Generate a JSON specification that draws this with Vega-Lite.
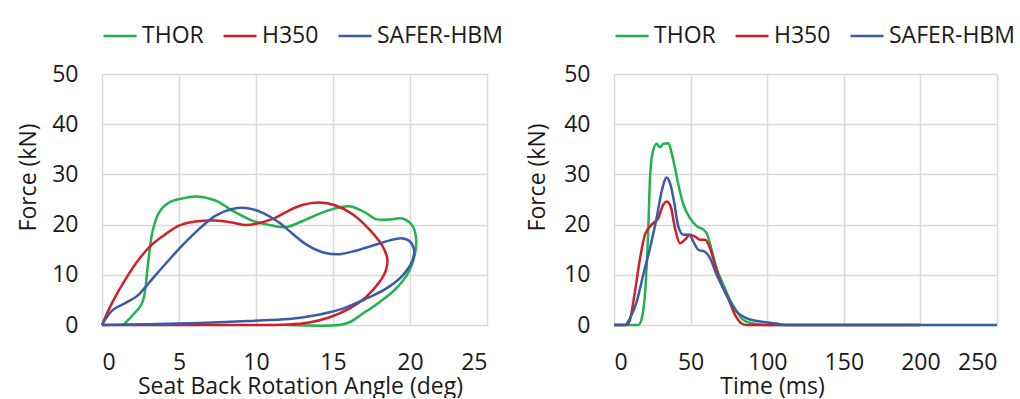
{
  "$schema": "https://vega.github.io/schema/vega-lite/v6.json",
  "padding": {"left": 16, "top": 18, "right": 0, "bottom": 0},
  "background": "white",
  "datasets": {
    "angle": [
      {"s": "THOR", "i": 0, "x": 1.38, "f": 0},
      {"s": "THOR", "i": 1, "x": 1.97, "f": 1.9},
      {"s": "THOR", "i": 2, "x": 2.62, "f": 4.5},
      {"s": "THOR", "i": 3, "x": 3.0, "f": 12.5},
      {"s": "THOR", "i": 4, "x": 3.27, "f": 18.5},
      {"s": "THOR", "i": 5, "x": 3.7, "f": 22.4},
      {"s": "THOR", "i": 6, "x": 4.35, "f": 24.4},
      {"s": "THOR", "i": 7, "x": 5.2, "f": 25.2},
      {"s": "THOR", "i": 8, "x": 6.08, "f": 25.6},
      {"s": "THOR", "i": 9, "x": 7.37, "f": 24.8},
      {"s": "THOR", "i": 10, "x": 8.46, "f": 22.8},
      {"s": "THOR", "i": 11, "x": 9.76, "f": 20.8},
      {"s": "THOR", "i": 12, "x": 11.06, "f": 19.8},
      {"s": "THOR", "i": 13, "x": 11.93, "f": 19.5},
      {"s": "THOR", "i": 14, "x": 13.24, "f": 21.0},
      {"s": "THOR", "i": 15, "x": 14.3, "f": 22.4},
      {"s": "THOR", "i": 16, "x": 15.4, "f": 23.4},
      {"s": "THOR", "i": 17, "x": 16.15, "f": 23.6},
      {"s": "THOR", "i": 18, "x": 17.1, "f": 22.4},
      {"s": "THOR", "i": 19, "x": 17.77, "f": 21.1},
      {"s": "THOR", "i": 20, "x": 18.6, "f": 21.0},
      {"s": "THOR", "i": 21, "x": 19.5, "f": 21.2},
      {"s": "THOR", "i": 22, "x": 20.15, "f": 19.8},
      {"s": "THOR", "i": 23, "x": 20.4, "f": 17.1},
      {"s": "THOR", "i": 24, "x": 20.3, "f": 13.8},
      {"s": "THOR", "i": 25, "x": 19.9, "f": 10.5},
      {"s": "THOR", "i": 26, "x": 19.07, "f": 7.2},
      {"s": "THOR", "i": 27, "x": 18.0, "f": 4.5},
      {"s": "THOR", "i": 28, "x": 16.9, "f": 2.2},
      {"s": "THOR", "i": 29, "x": 16.04, "f": 0.5},
      {"s": "THOR", "i": 30, "x": 15.4, "f": 0},
      {"s": "THOR", "i": 31, "x": 12.0, "f": 0},
      {"s": "H350", "i": 0, "x": 0, "f": 0},
      {"s": "H350", "i": 1, "x": 0.67, "f": 4.5},
      {"s": "H350", "i": 2, "x": 1.54, "f": 9.2},
      {"s": "H350", "i": 3, "x": 2.4, "f": 13.1},
      {"s": "H350", "i": 4, "x": 3.27, "f": 16.1},
      {"s": "H350", "i": 5, "x": 4.13, "f": 18.1},
      {"s": "H350", "i": 6, "x": 5.0, "f": 19.8},
      {"s": "H350", "i": 7, "x": 6.08, "f": 20.6},
      {"s": "H350", "i": 8, "x": 7.38, "f": 20.8},
      {"s": "H350", "i": 9, "x": 8.46, "f": 20.4},
      {"s": "H350", "i": 10, "x": 9.33, "f": 19.9},
      {"s": "H350", "i": 11, "x": 10.2, "f": 20.3},
      {"s": "H350", "i": 12, "x": 11.28, "f": 21.4},
      {"s": "H350", "i": 13, "x": 12.14, "f": 22.8},
      {"s": "H350", "i": 14, "x": 13.0, "f": 23.9},
      {"s": "H350", "i": 15, "x": 14.1, "f": 24.4},
      {"s": "H350", "i": 16, "x": 15.17, "f": 23.8},
      {"s": "H350", "i": 17, "x": 16.25, "f": 22.1},
      {"s": "H350", "i": 18, "x": 17.34, "f": 19.1},
      {"s": "H350", "i": 19, "x": 18.2, "f": 15.8},
      {"s": "H350", "i": 20, "x": 18.53, "f": 13.1},
      {"s": "H350", "i": 21, "x": 18.42, "f": 10.8},
      {"s": "H350", "i": 22, "x": 18.0, "f": 8.5},
      {"s": "H350", "i": 23, "x": 17.12, "f": 5.5},
      {"s": "H350", "i": 24, "x": 16.04, "f": 3.2},
      {"s": "H350", "i": 25, "x": 14.74, "f": 1.5},
      {"s": "H350", "i": 26, "x": 13.44, "f": 0.5},
      {"s": "H350", "i": 27, "x": 12.14, "f": 0.1},
      {"s": "H350", "i": 28, "x": 8.0, "f": 0},
      {"s": "H350", "i": 29, "x": 0, "f": 0},
      {"s": "SAFER-HBM", "i": 0, "x": 0, "f": 0},
      {"s": "SAFER-HBM", "i": 1, "x": 0.67, "f": 2.9},
      {"s": "SAFER-HBM", "i": 2, "x": 1.54, "f": 4.4},
      {"s": "SAFER-HBM", "i": 3, "x": 2.29, "f": 5.8},
      {"s": "SAFER-HBM", "i": 4, "x": 3.27, "f": 9.2},
      {"s": "SAFER-HBM", "i": 5, "x": 4.13, "f": 12.2},
      {"s": "SAFER-HBM", "i": 6, "x": 5.2, "f": 15.8},
      {"s": "SAFER-HBM", "i": 7, "x": 6.3, "f": 19.1},
      {"s": "SAFER-HBM", "i": 8, "x": 7.38, "f": 21.8},
      {"s": "SAFER-HBM", "i": 9, "x": 8.46, "f": 23.1},
      {"s": "SAFER-HBM", "i": 10, "x": 9.33, "f": 23.3},
      {"s": "SAFER-HBM", "i": 11, "x": 10.4, "f": 22.4},
      {"s": "SAFER-HBM", "i": 12, "x": 11.5, "f": 20.4},
      {"s": "SAFER-HBM", "i": 13, "x": 12.14, "f": 18.8},
      {"s": "SAFER-HBM", "i": 14, "x": 13.23, "f": 16.1},
      {"s": "SAFER-HBM", "i": 15, "x": 14.3, "f": 14.5},
      {"s": "SAFER-HBM", "i": 16, "x": 15.4, "f": 14.1},
      {"s": "SAFER-HBM", "i": 17, "x": 16.47, "f": 14.8},
      {"s": "SAFER-HBM", "i": 18, "x": 17.55, "f": 15.8},
      {"s": "SAFER-HBM", "i": 19, "x": 18.64, "f": 16.8},
      {"s": "SAFER-HBM", "i": 20, "x": 19.4, "f": 17.3},
      {"s": "SAFER-HBM", "i": 21, "x": 19.94, "f": 16.8},
      {"s": "SAFER-HBM", "i": 22, "x": 20.26, "f": 15.1},
      {"s": "SAFER-HBM", "i": 23, "x": 20.15, "f": 12.8},
      {"s": "SAFER-HBM", "i": 24, "x": 19.5, "f": 9.8},
      {"s": "SAFER-HBM", "i": 25, "x": 18.42, "f": 7.2},
      {"s": "SAFER-HBM", "i": 26, "x": 17.12, "f": 5.2},
      {"s": "SAFER-HBM", "i": 27, "x": 15.6, "f": 3.2},
      {"s": "SAFER-HBM", "i": 28, "x": 14.3, "f": 2.2},
      {"s": "SAFER-HBM", "i": 29, "x": 13.0, "f": 1.5},
      {"s": "SAFER-HBM", "i": 30, "x": 12.14, "f": 1.2},
      {"s": "SAFER-HBM", "i": 31, "x": 9.5, "f": 0.8},
      {"s": "SAFER-HBM", "i": 32, "x": 6.3, "f": 0.4},
      {"s": "SAFER-HBM", "i": 33, "x": 3.0, "f": 0.15},
      {"s": "SAFER-HBM", "i": 34, "x": 0, "f": 0}
    ],
    "time": [
      {"s": "THOR", "t": 0, "f": 0},
      {"s": "THOR", "t": 15.9, "f": 0},
      {"s": "THOR", "t": 18.1, "f": 1.3},
      {"s": "THOR", "t": 20.2, "f": 6},
      {"s": "THOR", "t": 22.4, "f": 19.3},
      {"s": "THOR", "t": 23.5, "f": 29.3},
      {"s": "THOR", "t": 25.2, "f": 34.3},
      {"s": "THOR", "t": 27.8, "f": 36.1},
      {"s": "THOR", "t": 30.0, "f": 35.4},
      {"s": "THOR", "t": 32.2, "f": 36.1},
      {"s": "THOR", "t": 35.5, "f": 36.2},
      {"s": "THOR", "t": 37.6, "f": 34.3},
      {"s": "THOR", "t": 39.8, "f": 31.3},
      {"s": "THOR", "t": 42.0, "f": 28},
      {"s": "THOR", "t": 45.3, "f": 24},
      {"s": "THOR", "t": 49.6, "f": 21.3},
      {"s": "THOR", "t": 54.0, "f": 19.7},
      {"s": "THOR", "t": 58.3, "f": 19},
      {"s": "THOR", "t": 60.9, "f": 18},
      {"s": "THOR", "t": 63.7, "f": 15},
      {"s": "THOR", "t": 67.0, "f": 11.3},
      {"s": "THOR", "t": 71.4, "f": 8},
      {"s": "THOR", "t": 75.7, "f": 5},
      {"s": "THOR", "t": 80.1, "f": 2.7},
      {"s": "THOR", "t": 84.4, "f": 1},
      {"s": "THOR", "t": 91, "f": 0.3},
      {"s": "THOR", "t": 99.7, "f": 0},
      {"s": "THOR", "t": 200, "f": 0},
      {"s": "H350", "t": 0, "f": 0},
      {"s": "H350", "t": 8.3, "f": 0},
      {"s": "H350", "t": 10.4, "f": 1},
      {"s": "H350", "t": 13.7, "f": 6.7},
      {"s": "H350", "t": 17, "f": 13.3},
      {"s": "H350", "t": 20.2, "f": 18},
      {"s": "H350", "t": 24.6, "f": 20},
      {"s": "H350", "t": 28.9, "f": 21.3},
      {"s": "H350", "t": 32.2, "f": 24},
      {"s": "H350", "t": 34.4, "f": 24.6},
      {"s": "H350", "t": 37, "f": 23.6},
      {"s": "H350", "t": 39.8, "f": 19.3},
      {"s": "H350", "t": 43.1, "f": 16.3},
      {"s": "H350", "t": 46.3, "f": 17},
      {"s": "H350", "t": 49.6, "f": 18},
      {"s": "H350", "t": 52.9, "f": 17.6},
      {"s": "H350", "t": 56.1, "f": 17},
      {"s": "H350", "t": 59.4, "f": 17},
      {"s": "H350", "t": 62.7, "f": 15.3},
      {"s": "H350", "t": 65.9, "f": 12},
      {"s": "H350", "t": 70.3, "f": 8},
      {"s": "H350", "t": 74.6, "f": 5.3},
      {"s": "H350", "t": 79, "f": 2},
      {"s": "H350", "t": 83.3, "f": 0.3},
      {"s": "H350", "t": 86.6, "f": 0},
      {"s": "H350", "t": 200, "f": 0},
      {"s": "SAFER-HBM", "t": 0, "f": 0},
      {"s": "SAFER-HBM", "t": 7.2, "f": 0},
      {"s": "SAFER-HBM", "t": 10.4, "f": 1.3},
      {"s": "SAFER-HBM", "t": 14.8, "f": 4.6},
      {"s": "SAFER-HBM", "t": 19.1, "f": 10},
      {"s": "SAFER-HBM", "t": 23.5, "f": 15.3},
      {"s": "SAFER-HBM", "t": 27.8, "f": 21.3},
      {"s": "SAFER-HBM", "t": 31.1, "f": 26.6},
      {"s": "SAFER-HBM", "t": 34.4, "f": 29.4},
      {"s": "SAFER-HBM", "t": 36.6, "f": 28.2},
      {"s": "SAFER-HBM", "t": 39.2, "f": 24.6},
      {"s": "SAFER-HBM", "t": 42, "f": 19.6},
      {"s": "SAFER-HBM", "t": 45.3, "f": 18},
      {"s": "SAFER-HBM", "t": 49.2, "f": 18},
      {"s": "SAFER-HBM", "t": 51.8, "f": 16.6},
      {"s": "SAFER-HBM", "t": 55, "f": 15},
      {"s": "SAFER-HBM", "t": 59.4, "f": 14.6},
      {"s": "SAFER-HBM", "t": 62.7, "f": 13.3},
      {"s": "SAFER-HBM", "t": 67, "f": 10},
      {"s": "SAFER-HBM", "t": 71.4, "f": 7.3},
      {"s": "SAFER-HBM", "t": 75.7, "f": 4.6},
      {"s": "SAFER-HBM", "t": 80, "f": 2.7},
      {"s": "SAFER-HBM", "t": 86.6, "f": 1.3},
      {"s": "SAFER-HBM", "t": 95.3, "f": 0.7},
      {"s": "SAFER-HBM", "t": 106, "f": 0.3},
      {"s": "SAFER-HBM", "t": 112.7, "f": 0},
      {"s": "SAFER-HBM", "t": 250, "f": 0}
    ]
  },
  "spacing": 22,
  "resolve": {"legend": {"color": "independent"}},
  "hconcat": [
    {
      "width": 385,
      "height": 251,
      "data": {"name": "angle"},
      "mark": {"type": "line", "interpolate": "catmull-rom", "strokeWidth": 2.5},
      "encoding": {
        "x": {"field": "x", "type": "quantitative", "scale": {"domain": [0, 25], "nice": false},
          "axis": {"values": [0, 5, 10, 15, 20, 25], "labelPadding": 26, "title": "Seat Back Rotation Angle (deg)", "titleX": 198, "titleY": 61, "titleBaseline": "middle"}},
        "y": {"field": "f", "type": "quantitative", "scale": {"domain": [0, 50], "nice": false},
          "axis": {"values": [0, 10, 20, 30, 40, 50], "title": "Force (kN)", "titleX": -74, "titleY": 103, "titleAngle": -90, "titleBaseline": "middle", "titleAlign": "center"}},
        "color": {"field": "s", "type": "nominal",
          "scale": {"domain": ["THOR", "H350", "SAFER-HBM"], "range": ["#23b24f", "#d01f26", "#3a5ba8"]},
          "legend": {"title": null}},
        "order": {"field": "i", "type": "quantitative"}
      }
    },
    {
      "width": 383,
      "height": 251,
      "data": {"name": "time"},
      "mark": {"type": "line", "interpolate": "monotone", "strokeWidth": 2.5},
      "encoding": {
        "x": {"field": "t", "type": "quantitative", "scale": {"domain": [0, 250], "nice": false},
          "axis": {"values": [0, 50, 100, 150, 200, 250], "labelPadding": 26, "title": "Time (ms)", "titleX": 158, "titleY": 61, "titleBaseline": "middle"}},
        "y": {"field": "f", "type": "quantitative", "scale": {"domain": [0, 50], "nice": false},
          "axis": {"values": [0, 10, 20, 30, 40, 50], "title": "Force (kN)", "titleX": -77, "titleY": 103, "titleAngle": -90, "titleBaseline": "middle", "titleAlign": "center"}},
        "color": {"field": "s", "type": "nominal",
          "scale": {"domain": ["THOR", "H350", "SAFER-HBM"], "range": ["#23b24f", "#d01f26", "#3a5ba8"]},
          "legend": {"title": null}}
      }
    }
  ],
  "config": {
    "font": "Open Sans",
    "view": {"stroke": null},
    "axis": {
      "domain": false,
      "ticks": false,
      "tickSize": 0,
      "grid": true,
      "gridColor": "#d9d9d9",
      "gridWidth": 1.5,
      "labelFontSize": 23,
      "labelColor": "#1a1a1a",
      "labelPadding": 24,
      "titleFontSize": 23,
      "titleFontWeight": "normal",
      "titleColor": "#1a1a1a"
    },
    "legend": {
      "orient": "top",
      "direction": "horizontal",
      "symbolType": "stroke",
      "symbolSize": 1089,
      "symbolStrokeWidth": 2.5,
      "labelFontSize": 23,
      "labelColor": "#1a1a1a",
      "labelOffset": 4,
      "columnPadding": 14,
      "offset": 26,
      "padding": 0
    }
  }
}
